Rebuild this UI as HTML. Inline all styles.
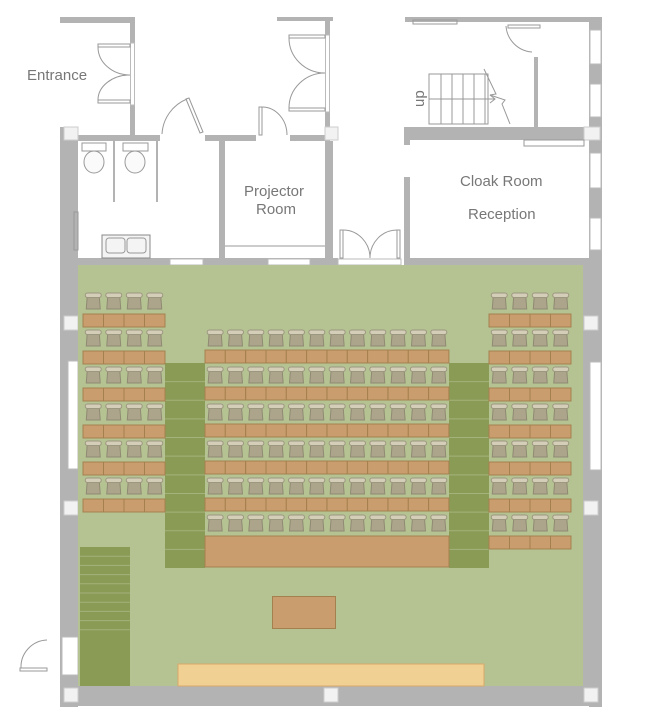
<!DOCTYPE html>
<html><head><meta charset="utf-8"><style>
body{margin:0;background:#fff}
svg{display:block}
text{font-family:"Liberation Sans",sans-serif;fill:#777;font-size:15px}
</style></head><body>
<svg id="s" width="668" height="725" viewBox="0 0 668 725" xmlns="http://www.w3.org/2000/svg">
<g fill="#b3b3b3">
<rect x="60" y="17" width="75" height="6"/>
<rect x="130" y="17" width="5" height="26"/>
<rect x="130" y="105" width="5" height="30"/>
<rect x="277" y="17" width="56" height="4"/>
<rect x="325" y="17" width="5" height="18"/>
<rect x="325" y="112" width="5" height="18"/>
<rect x="60" y="127" width="18" height="580"/>
<rect x="60" y="135" width="100" height="6"/>
<rect x="205" y="135" width="51" height="6"/>
<rect x="290" y="135" width="40" height="6"/>
<rect x="219" y="141" width="6" height="119"/>
<rect x="325" y="141" width="8" height="124"/>
<rect x="113" y="141" width="2" height="61"/>
<rect x="156" y="141" width="2" height="61"/>
<rect x="60" y="258" width="278" height="7"/>
<rect x="405" y="17" width="197" height="5"/>
<rect x="589" y="17" width="13" height="690"/>
<rect x="404" y="127" width="180" height="13"/>
<rect x="404" y="127" width="6" height="18"/>
<rect x="534" y="57" width="4" height="71"/>
<rect x="404" y="177" width="6" height="88"/>
<rect x="404" y="258" width="198" height="7"/>
<rect x="583" y="265" width="19" height="441"/>
<rect x="60" y="686" width="542" height="20"/>
</g>
<g fill="#fff" stroke="#bbb" stroke-width="1">
<rect x="590" y="30" width="11" height="34"/>
<rect x="590" y="84" width="11" height="33"/>
<rect x="590" y="153" width="11" height="35"/>
<rect x="590" y="218" width="11" height="32"/>
<rect x="590" y="362" width="11" height="108"/>
<rect x="68" y="361" width="10" height="108"/>
<rect x="62" y="637" width="16" height="38"/>
<rect x="170" y="259" width="33" height="6"/>
<rect x="268" y="259" width="42" height="6"/>
<rect x="130.5" y="43" width="4" height="62"/>
<rect x="325.5" y="35" width="4" height="77"/>
<rect x="338" y="259" width="63" height="6"/>
</g>
<g fill="#f2f2f2" stroke="#ccc">
<rect x="64" y="127" width="14" height="13"/>
<rect x="325" y="127" width="13" height="13"/>
<rect x="584" y="127" width="16" height="13"/>
<rect x="64" y="316" width="14" height="14"/>
<rect x="584" y="316" width="14" height="14"/>
<rect x="64" y="501" width="14" height="14"/>
<rect x="584" y="501" width="14" height="14"/>
<rect x="64" y="688" width="14" height="14"/>
<rect x="324" y="688" width="14" height="14"/>
<rect x="584" y="688" width="14" height="14"/>
</g>
<g fill="none" stroke="#999" stroke-width="1">
<rect x="98" y="44" width="32" height="3"/><path d="M98 47 A32 28 0 0 0 130 75"/>
<rect x="98" y="100" width="32" height="3"/><path d="M98 100 A32 25 0 0 1 130 75"/>
<rect x="289" y="35" width="36" height="3"/><path d="M289 38 A36 35 0 0 0 325 73"/>
<rect x="289" y="108" width="36" height="3"/><path d="M289 108 A36 35 0 0 1 325 73"/>
<path d="M162 134 A40 40 0 0 1 187 99"/><path d="M186 99 L189 98 L203 132 L200 133Z"/>
<rect x="259" y="107" width="3" height="28"/><path d="M262 107 A25 28 0 0 1 287 135"/>
<rect x="340" y="230" width="3" height="28"/><rect x="397" y="230" width="3" height="28"/>
<path d="M343 230 A27 28 0 0 1 370 258 A27 28 0 0 1 397 230"/>
<rect x="508" y="25" width="32" height="3"/><path d="M506 26 A28 28 0 0 0 532 52"/>
<rect x="413" y="20" width="44" height="4"/>
<rect x="524" y="140" width="60" height="6"/>
<rect x="20" y="668" width="27" height="3"/><path d="M21 668 A27 27 0 0 1 47 640"/>
<rect x="74" y="212" width="4" height="38"/>
<line x1="225" y1="246" x2="325" y2="246"/>
<rect x="429" y="74" width="59" height="50"/>
<line x1="429" y1="99" x2="495" y2="99"/>
<path d="M441 74V124M452 74V124M463 74V124M474 74V124M485 74V124"/>
<path d="M484 69 L496 94 L490 95 L505 100 L502 104 L510 124"/>
<path d="M490 95 L495 99 L490 103"/>
<rect x="82" y="143" width="24" height="8" fill="#fff"/>
<ellipse cx="94" cy="162" rx="10" ry="11" fill="#fafafa"/>
<rect x="123" y="143" width="25" height="8" fill="#fff"/>
<ellipse cx="135" cy="162" rx="10" ry="11" fill="#fafafa"/>
<rect x="102" y="235" width="48" height="23" fill="#f4f4f4" stroke="#888"/>
<rect x="106" y="238" width="19" height="15" rx="3"/><rect x="127" y="238" width="19" height="15" rx="3"/>
</g>
<text x="424" y="107" transform="rotate(-90 424 107)" font-size="11">up</text>
<text x="27" y="80">Entrance</text>
<text x="244" y="196">Projector</text>
<text x="256" y="214">Room</text>
<text x="460" y="186">Cloak Room</text>
<text x="468" y="219">Reception</text>
<rect x="78" y="265" width="505" height="421" fill="#b5c393"/>
<rect x="178" y="664" width="306" height="22" fill="#f0d193" stroke="#d8a96a"/>
<rect x="272.5" y="596.5" width="63" height="32" fill="#c99d6d" stroke="#a5804f"/>
<g id="dyn"></g>
</svg>
<script>
var g=document.getElementById('dyn'),h='';
function r(x,y,w,hh,f,s){h+='<rect x="'+x+'" y="'+y+'" width="'+w+'" height="'+hh+'" fill="'+f+'" stroke="'+(s||'none')+'"/>';}
function chair(x,y,w){var c=x+w/2;h+='<path d="M'+(c-6)+' '+(y+3)+'L'+(c+6)+' '+(y+3)+'L'+(c+7)+' '+(y+16)+'L'+(c-7)+' '+(y+16)+'Z" fill="#ada48c" stroke="#8f8a72"/><rect x="'+(c-8)+'" y="'+y+'" width="16" height="4.5" rx="2.2" fill="#d4cdb8" stroke="#9c977f"/>';}
function tables(x,y,n,w){for(var i=0;i<n;i++)r((x+i*w).toFixed(1),y,w.toFixed(1),13,'#c99d6d','#a5804f');}
function chairs(x,y,n,w){for(var i=0;i<n;i++)chair(x+i*w,y,w);}
function aisle(x,y0,y1,n){r(x,y0,40,y1-y0,'#8a9b55');var s=(y1-y0)/n;for(var i=1;i<n;i++)h+='<line x1="'+x+'" x2="'+(x+40)+'" y1="'+(y0+i*s)+'" y2="'+(y0+i*s)+'" stroke="#a4b27c"/>';}
aisle(165,363,568,11);aisle(449,363,568,11);
r(80,547,50,139,'#8a9b55');for(var i=1;i<10;i++)h+='<line x1="80" x2="130" y1="'+(547+i*9.2)+'" y2="'+(547+i*9.2)+'" stroke="#a4b27c"/>';
for(var k=0;k<6;k++){chairs(83,293+k*37,4,20.5);tables(83,314+k*37,4,20.5);}
for(var k=0;k<7;k++){chairs(489,293+k*37,4,20.5);tables(489,314+k*37,4,20.5);}
for(var k=0;k<6;k++){chairs(205,330+k*37,12,20.33);}
for(var k=0;k<5;k++){tables(205,350+k*37,12,20.33);}
r(205,536,244,31,'#c99d6d','#a5804f');
g.innerHTML=h;
</script>
</body></html>
